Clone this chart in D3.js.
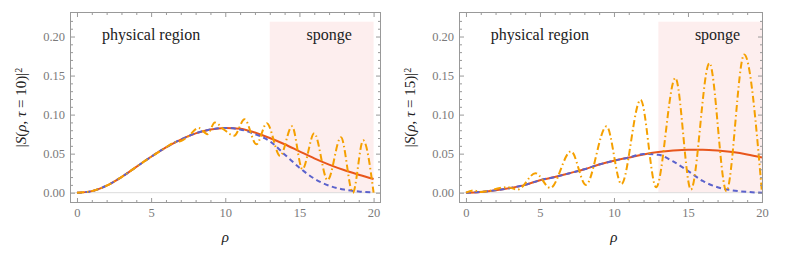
<!DOCTYPE html>
<html>
<head>
	<script src="https://d3js.org/d3.v7.min.js"></script>
	<style>
		body { margin: 0; background: #fff; }
	</style>
</head>
<body>
	<div id="chart"></div>

	<script>
		// rho grid for the smooth curves
		const rhoGrid = d3.range(0, 21);

		// left panel, tau = 10
		const leftSolid = [0, 0.002, 0.009, 0.020, 0.033, 0.046, 0.058, 0.068, 0.076, 0.081, 0.083,
			0.082, 0.077, 0.070, 0.062, 0.053, 0.044, 0.036, 0.029, 0.023, 0.0175];
		const leftDashed = [0, 0.002, 0.009, 0.020, 0.033, 0.046, 0.058, 0.068, 0.076, 0.081, 0.083,
			0.081, 0.075, 0.066, 0.049, 0.032, 0.018, 0.009, 0.004, 0.0015, 0.0005];
		const leftOscRho = [0, 1, 2, 3, 4, 5, 6, 6.5, 7, 7.5, 8.2, 8.8, 9.3, 9.9, 10.6, 11.3, 12.1, 12.8,
			13.7, 14.5, 15.2, 16.0, 16.9, 17.8, 18.6, 19.3, 20];
		const leftOscVal = [0, 0.002, 0.009, 0.020, 0.033, 0.046, 0.058, 0.064, 0.066, 0.072, 0.083, 0.075,
			0.090, 0.081, 0.073, 0.094, 0.062, 0.089, 0.047, 0.085, 0.030, 0.076, 0.016, 0.071, 0.000, 0.067, 0.000];

		// right panel, tau = 15
		const rightSolid = [0, 0.001, 0.003, 0.006, 0.010, 0.016, 0.020, 0.025, 0.030, 0.036, 0.041,
			0.045, 0.049, 0.052, 0.054, 0.055, 0.055, 0.054, 0.052, 0.049, 0.045];
		const rightDashed = [0, 0.001, 0.003, 0.006, 0.010, 0.016, 0.020, 0.025, 0.030, 0.036, 0.041,
			0.045, 0.0495, 0.0485, 0.040, 0.028, 0.015, 0.007, 0.003, 0.001, 0.000];
		const rightOscRho = [0, 0.5, 1.0, 1.5, 2.3, 2.8, 3.5, 4.7, 5.7, 7.1, 8.1, 9.5, 10.5, 11.8, 12.85,
			14.15, 15.2, 16.45, 17.6, 18.8, 20];
		const rightOscVal = [0, 0.003, 0.001, 0.002, 0.006, 0.007, 0.004, 0.025, 0.006, 0.053, 0.010, 0.085,
			0.011, 0.119, 0.007, 0.147, 0.004, 0.166, 0.002, 0.177, 0];

		const xMajor = [0, 5, 10, 15, 20];
		const yMajor = [0, 0.05, 0.10, 0.15, 0.20];
		const spongeStart = 13, spongeEnd = 20, spongeTop = 0.219;

		const panels = [
			{ left: 70, right: 381, xDom: [-0.47, 20.5], tau: "10", solid: leftSolid, dashed: leftDashed,
				oscRho: leftOscRho, oscVal: leftOscVal },
			{ left: 459, right: 763, xDom: [-0.47, 20.07], tau: "15", solid: rightSolid, dashed: rightDashed,
				oscRho: rightOscRho, oscVal: rightOscVal }
		];

		const serif = "'Liberation Serif', 'Times New Roman', Times, serif";
		const plotTop = 12, plotBottom = 203;
		const svg = d3.select("#chart").append("svg")
			.attr("width", 789)
			.attr("height", 257)
			.attr("font-family", serif);

		const y = d3.scaleLinear().domain([-0.0132, 0.2314]).range([plotBottom, plotTop]);

		panels.forEach(p => {
			const x = d3.scaleLinear().domain(p.xDom).range([p.left, p.right]);
			const g = svg.append("g");

			// sponge region
			g.append("rect")
				.attr("x", x(spongeStart))
				.attr("y", y(spongeTop))
				.attr("width", x(spongeEnd) - x(spongeStart))
				.attr("height", y(0) - y(spongeTop))
				.attr("fill", "#fdeeee");

			// origin axis
			g.append("line")
				.attr("x1", p.left).attr("x2", p.right)
				.attr("y1", y(0)).attr("y2", y(0))
				.attr("stroke", "#dcdcdc").attr("stroke-width", 1);

			const line = d3.line()
				.x(d => x(d[0]))
				.y(d => y(d[1]))
				.curve(d3.curveMonotoneX);

			g.append("path")
				.datum(rhoGrid.map((r, i) => [r, p.solid[i]]))
				.attr("d", line)
				.attr("fill", "none")
				.attr("stroke", "#e8561c")
				.attr("stroke-width", 2);

			g.append("path")
				.datum(rhoGrid.map((r, i) => [r, p.dashed[i]]))
				.attr("d", line)
				.attr("fill", "none")
				.attr("stroke", "#5b62cc")
				.attr("stroke-width", 2)
				.attr("stroke-dasharray", "5,3.5");

			g.append("path")
				.datum(p.oscRho.map((r, i) => [r, p.oscVal[i]]))
				.attr("d", line)
				.attr("fill", "none")
				.attr("stroke", "#f5a000")
				.attr("stroke-width", 2)
				.attr("stroke-dasharray", "7,3,1.5,3");

			// frame
			g.append("rect")
				.attr("x", p.left + 0.5).attr("y", plotTop + 0.5)
				.attr("width", p.right - p.left - 1).attr("height", plotBottom - plotTop - 1)
				.attr("fill", "none")
				.attr("stroke", "#999")
				.attr("stroke-width", 1);

			const xMinor = d3.range(0, 21).filter(v => v % 5 !== 0);
			const yMinor = d3.range(0, 23).filter(v => v % 5 !== 0).map(v => v / 100);

			const tickAxis = (axis, vals, size) => axis.tickValues(vals).tickSize(size).tickSizeOuter(0).tickFormat("");

			const addAxis = (gen, transform) => {
				const a = g.append("g").attr("transform", transform).call(gen)
					.attr("font-family", serif).attr("font-size", 12.5);
				a.select(".domain").remove();
				a.selectAll("line").attr("stroke", "#999");
				a.selectAll("text").attr("fill", "#7a7a7a");
				return a;
			};

			// bottom
			addAxis(tickAxis(d3.axisBottom(x), xMajor, -5).tickFormat(d3.format("d")).tickPadding(5), `translate(0,${plotBottom})`);
			addAxis(tickAxis(d3.axisBottom(x), xMinor, -3), `translate(0,${plotBottom})`);
			// top
			addAxis(tickAxis(d3.axisTop(x), xMajor, -5), `translate(0,${plotTop})`);
			addAxis(tickAxis(d3.axisTop(x), xMinor, -3), `translate(0,${plotTop})`);
			// left
			addAxis(tickAxis(d3.axisLeft(y), yMajor, -5).tickFormat(d3.format(".2f")).tickPadding(5), `translate(${p.left},0)`);
			addAxis(tickAxis(d3.axisLeft(y), yMinor, -3), `translate(${p.left},0)`);
			// right
			addAxis(tickAxis(d3.axisRight(y), yMajor, -5), `translate(${p.right},0)`);
			addAxis(tickAxis(d3.axisRight(y), yMinor, -3), `translate(${p.right},0)`);

			// region labels
			g.append("text")
				.attr("x", x(5.0)).attr("y", 40)
				.attr("text-anchor", "middle")
				.attr("font-size", 16)
				.attr("fill", "#222")
				.text("physical region");
			g.append("text")
				.attr("x", x(17.0)).attr("y", 40)
				.attr("text-anchor", "middle")
				.attr("font-size", 16)
				.attr("fill", "#222")
				.text("sponge");

			// x label
			g.append("text")
				.attr("x", x(10)).attr("y", 242)
				.attr("text-anchor", "middle")
				.attr("font-size", 15)
				.attr("font-style", "italic")
				.attr("fill", "#222")
				.text("ρ");

			// y label
			const yl = g.append("text")
				.attr("transform", `translate(${p.left - 44},${(plotTop + plotBottom) / 2}) rotate(-90)`)
				.attr("text-anchor", "middle")
				.attr("font-size", 15)
				.attr("fill", "#222");
			yl.append("tspan").text("|");
			yl.append("tspan").attr("font-style", "italic").text("S");
			yl.append("tspan").text("(");
			yl.append("tspan").attr("font-style", "italic").text("ρ");
			yl.append("tspan").text(", ");
			yl.append("tspan").attr("font-style", "italic").text("τ");
			yl.append("tspan").text(" = " + p.tau + ")|");
			yl.append("tspan").attr("dy", "-0.45em").attr("font-size", 10).text("2");
		});
	</script>
</body>
</html>
